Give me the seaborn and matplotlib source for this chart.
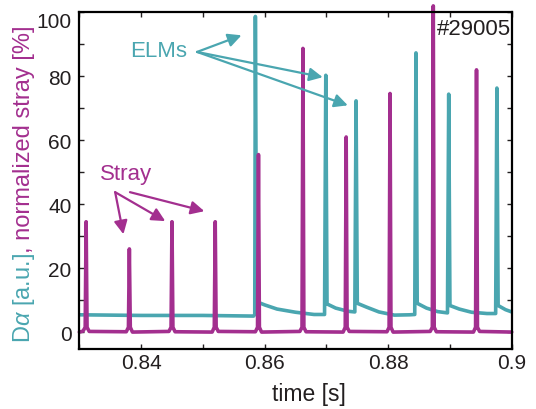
import matplotlib
matplotlib.use("Agg")
import matplotlib.pyplot as plt
import matplotlib.transforms as mtransforms
from matplotlib.ticker import MultipleLocator, FixedLocator
import seaborn as sns
import pandas as pd

# ---------------- data ----------------
stray_t = [0.8300, 0.8306, 0.83095, 0.8311, 0.83125, 0.8316,
           0.8376, 0.83795, 0.8381, 0.83825, 0.8386,
           0.8445, 0.84485, 0.8450, 0.84515, 0.8455,
           0.8515, 0.85185, 0.8520, 0.85215, 0.8525,
           0.8585, 0.85885, 0.8590, 0.85915, 0.8595,
           0.8657, 0.86605, 0.8662, 0.86635, 0.8667,
           0.8727, 0.87305, 0.8732, 0.87335, 0.8737,
           0.8798, 0.88015, 0.8803, 0.88045, 0.8808,
           0.8868, 0.88715, 0.8873, 0.88745, 0.8878,
           0.8938, 0.89415, 0.8943, 0.89445, 0.8948,
           0.9000]
stray_y = [0.0, 0.3, 1.5, 34.5, 1.5, 0.2,
           0.1, 1.5, 26.0, 1.5, 0.0,
           0.2, 1.5, 34.5, 1.5, 0.1,
           0.0, 1.5, 34.5, 1.5, 0.2,
           0.1, 1.5, 55.5, 1.5, 0.0,
           0.2, 1.5, 88.7, 1.5, 0.1,
           0.0, 1.5, 61.0, 1.5, 0.2,
           0.1, 1.5, 74.6, 1.5, 0.0,
           0.2, 1.5, 102.0, 1.5, 0.1,
           0.0, 1.5, 82.0, 1.5, 0.2,
           0.0]

elm_t = [0.8300, 0.8400, 0.8500, 0.8582, 0.8584, 0.8585, 0.8587,
         0.8600, 0.8620, 0.8650, 0.8680, 0.8697, 0.8699, 0.8701,
         0.8715, 0.8735, 0.8746, 0.8748, 0.8750, 0.8765, 0.8785,
         0.8810, 0.8835, 0.8843, 0.8845, 0.8847, 0.8862, 0.8880,
         0.8896, 0.8898, 0.8900, 0.8915, 0.8935, 0.8960, 0.8974,
         0.8976, 0.8978, 0.8990, 0.9000]
elm_y = [5.4, 5.2, 5.2, 5.0, 5.5, 98.7, 9.5,
         8.5, 7.2, 6.2, 5.5, 5.5, 80.3, 8.8,
         7.5, 6.5, 6.3, 72.3, 9.0, 7.8, 6.3,
         5.3, 5.4, 5.5, 87.3, 9.0, 7.5, 6.4,
         6.0, 74.4, 8.3, 7.2, 6.2, 5.8, 5.8,
         76.3, 8.3, 7.0, 6.3]

x_ticks = [0.84, 0.86, 0.88, 0.90]
x_ticklabels = ["0.84", "0.86", "0.88", "0.9"]
y_ticks = [0, 20, 40, 60, 80, 100]

TEAL = "#4aa6b0"
MAG = "#a32f8f"
INK = "#231f20"

# ---------------- style ----------------
sns.set_theme(style="ticks")
plt.rcParams["font.family"] = ["Liberation Sans", "DejaVu Sans"]
plt.rcParams["mathtext.fontset"] = "custom"
plt.rcParams["mathtext.rm"] = "Liberation Sans"
plt.rcParams["mathtext.it"] = "Liberation Sans:italic"

fig = plt.figure(figsize=(5.36, 4.10), dpi=100)
ax = fig.add_axes([0.148, 0.1463, 0.8067, 0.8213])

df_elm = pd.DataFrame({"t": elm_t, "v": elm_y})
df_str = pd.DataFrame({"t": stray_t, "v": stray_y})
sns.lineplot(data=df_elm, x="t", y="v", ax=ax, color=TEAL, lw=2.6,
             estimator=None, sort=False)
sns.lineplot(data=df_str, x="t", y="v", ax=ax, color=MAG, lw=2.6,
             estimator=None, sort=False)
for ln in ax.lines:
    ln.set_solid_joinstyle("round")
ax.lines[-1].set_clip_on(False)

ax.set_xlim(0.83, 0.90)
ax.set_ylim(-5.3, 100)

ax.xaxis.set_major_locator(FixedLocator(x_ticks))
ax.set_xticklabels(x_ticklabels)
ax.xaxis.set_minor_locator(MultipleLocator(0.01))
ax.yaxis.set_major_locator(FixedLocator(y_ticks))
ax.yaxis.set_minor_locator(MultipleLocator(10))
ax.tick_params(which="both", direction="in", top=True, right=True,
               length=3.5, width=1.0, color=INK)
ax.tick_params(axis="x", which="major", labelsize=15, pad=3, labelcolor=INK)
ax.tick_params(axis="y", which="major", labelsize=15, pad=5.5, labelcolor=INK)
for s in ax.spines.values():
    s.set_linewidth(1.6)
    s.set_color("black")

ax.set_xlabel("time [s]", fontsize=16.5, color=INK)
ax.xaxis.set_label_coords(0.531, -0.097)
ax.set_ylabel("")

# nudge the "100" label down, as in the reference
for lbl in ax.get_yticklabels():
    if lbl.get_text() == "100":
        lbl.set_transform(lbl.get_transform() +
                          mtransforms.ScaledTranslation(0, -7 / 100, fig.dpi_scale_trans))

# shot number
ax.text(0.9977, 0.9355, "#29005", transform=ax.transAxes, ha="right",
        va="baseline", fontsize=16, color=INK)

# ELMs annotation
ax.text(0.84748, 86.2, "ELMs", ha="right", va="baseline", fontsize=16, color=TEAL)
elm_src = (0.84906, 87.6)
for tgt in [(0.85625, 92.8), (0.8694, 79.7), (0.87346, 70.9)]:
    ax.annotate("", xy=tgt, xytext=elm_src,
                arrowprops=dict(arrowstyle="-|>", color=TEAL, lw=1.6,
                                mutation_scale=20, shrinkA=0, shrinkB=0))

# Stray annotation
ax.text(0.8376, 48.0, "Stray", ha="center", va="baseline", fontsize=16, color=MAG)
for src, tgt in [((0.8358, 43.75), (0.83714, 30.6)),
                 ((0.8358, 43.75), (0.84391, 34.7)),
                 ((0.8382, 43.75), (0.85024, 37.8))]:
    ax.annotate("", xy=tgt, xytext=src,
                arrowprops=dict(arrowstyle="-|>", color=MAG, lw=1.6,
                                mutation_scale=20, shrinkA=0, shrinkB=0))

# two-coloured y label
x_lab = 24 / 536
y0 = 67 / 410
t1 = fig.text(x_lab, y0, r"D$\alpha$ [a.u.]", rotation=90, color=TEAL,
              fontsize=17, ha="center", va="bottom")
fig.canvas.draw()
bb = t1.get_window_extent()
t2 = fig.text(x_lab, bb.y1 / fig.bbox.height, ", normalized stray [%]", rotation=90,
              color=MAG, fontsize=17, ha="center", va="bottom")

fig.savefig("out.png", dpi=100)
